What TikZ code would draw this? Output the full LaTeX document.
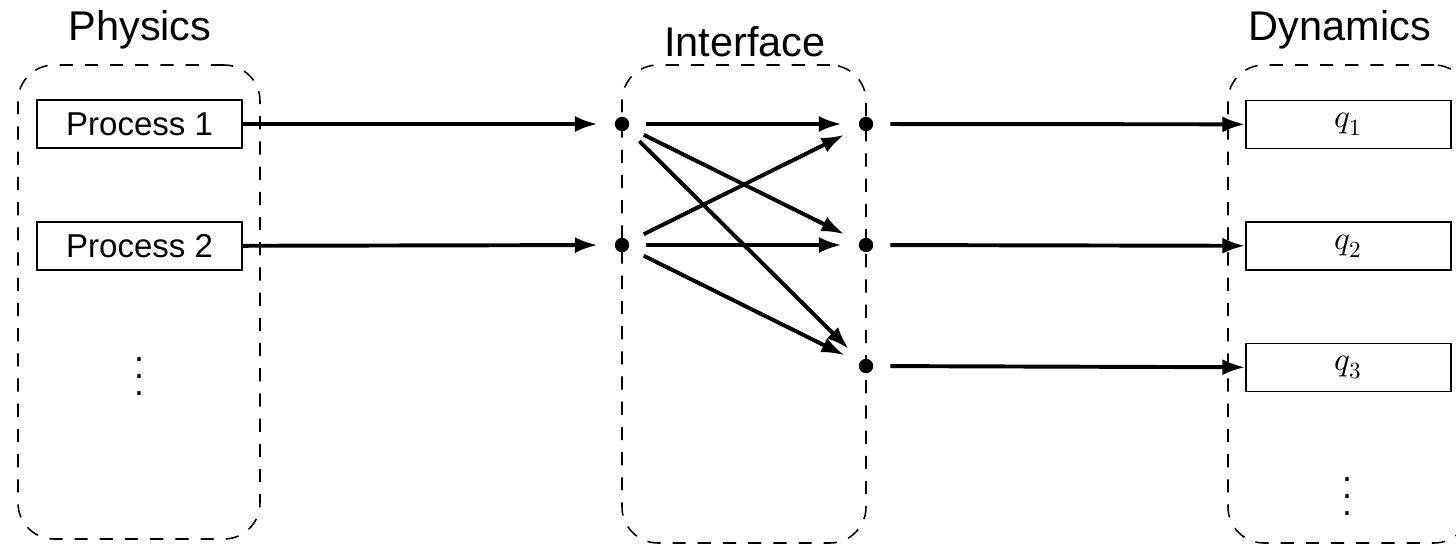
\documentclass[tikz,border=0pt]{standalone}
\usepackage{fontspec}
\usepackage{unicode-math}
\setmainfont{Liberation Sans}
\setmathfont{Latin Modern Math}
\usepackage{tikz}
\usetikzlibrary{arrows.meta}
\newcommand{\colvdots}{\vbox{\fontsize{8.5}{9}\selectfont \baselineskip4pt \lineskiplimit0pt \kern6pt\hbox{.}\hbox{.}\hbox{.}}}
\tikzset{
  grp/.style={ draw, dash pattern=on 0.33cm off 0.3cm, line width=1.1pt, rounded corners=0.9cm, inner sep=0pt }
}
\tikzset{
  grptitle/.style={ font=\fontsize{29.5}{34}\selectfont, inner sep=0pt }
}
\tikzset{
  procbox/.style={ draw, line width=1pt, minimum width=5.125cm, minimum height=1.2cm, inner sep=0pt, font=\fontsize{23.5}{28}\selectfont }
}
\tikzset{
  junction/.style={ circle, fill, inner sep=0pt, minimum size=0.36cm }
}
\tikzset{
  flow/.style={ line width=2.8pt, -{Latex[length=0.57cm, width=0.4cm]} },
  topt/.style={ shorten >=0.42cm },
  frompt/.style={ shorten <=0.42cm }
}
\tikzset{
  moredots/.style={ scale=3, inner sep=0pt }
}

\begin{document}
\begin{tikzpicture}[y=1cm, x=1cm]
      \useasboundingbox (0, 0) rectangle (36.4, -13.675);

      % the three groups
      \node[grp, minimum width=6.05cm, minimum height=11.85cm] (gphys) at (3.475, -7.55) {};
      \node[grp, minimum width=6.1cm, minimum height=11.95cm] (gint) at (18.6, -7.6) {};
      \node[grp, minimum width=6.05cm, minimum height=11.95cm] (gdyn) at (33.725, -7.6) {};
      \node[grptitle] (tphys) at (3.5, -0.75) {Physics};
      \node[grptitle] (tint) at (18.625, -1.05) {Interface};
      \node[grptitle] (tdyn) at (33.5, -0.75) {Dynamics};

      % physics side
      \node[procbox] (pr1) at (3.49, -3.1) {Process 1};
      \node[procbox] (pr2) at (3.49, -6.15) {Process 2};
      \node[moredots] (pdots) at (3.475, -9.1) {\colvdots};

      % interface points
      \node[junction] (a1) at (15.55, -3.1) {};
      \node[junction] (a2) at (15.55, -6.125) {};
      \node[junction] (b1) at (21.65, -3.1) {};
      \node[junction] (b2) at (21.65, -6.125) {};
      \node[junction] (b3) at (21.65, -9.15) {};

      % dynamics side
      \node[procbox] (q1) at (33.71, -3.11) {$q_1$};
      \node[procbox] (q2) at (33.71, -6.15) {$q_2$};
      \node[procbox] (q3) at (33.71, -9.19) {$q_3$};
      \node[moredots] (qdots) at (33.675, -12.1) {\colvdots};

      \draw[flow, topt] (pr1) -- (a1);
      \draw[flow, topt] (pr2) -- (a2);

      \draw[flow, topt, frompt] (a1) -- (b1);
      \draw[flow, topt, frompt] (a1) -- (b2);
      \draw[flow, topt, frompt] (a1) -- (b3);
      \draw[flow, topt, frompt] (a2) -- (b1);
      \draw[flow, topt, frompt] (a2) -- (b2);
      \draw[flow, topt, frompt] (a2) -- (b3);

      \draw[flow, frompt] (b1) -- (q1);
      \draw[flow, frompt] (b2) -- (q2);
      \draw[flow, frompt] (b3) -- (q3);
    \end{tikzpicture}
\end{document}
